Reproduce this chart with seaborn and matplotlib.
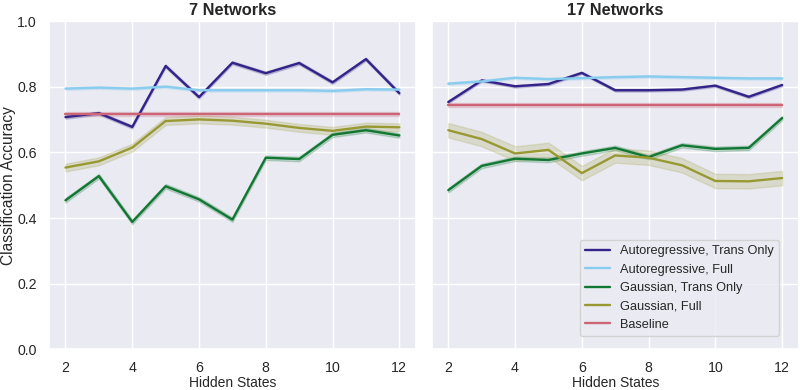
import numpy as np
import pandas as pd
import matplotlib
matplotlib.use("Agg")
import matplotlib.pyplot as plt
import seaborn as sns

hidden_states = [2, 3, 4, 5, 6, 7, 8, 9, 10, 11, 12]
models = ["Autoregressive, Trans Only", "Autoregressive, Full",
          "Gaussian, Trans Only", "Gaussian, Full", "Baseline"]
colors = ["#332288", "#88CCEE", "#117733", "#999933", "#CC6677"]

# 7 networks
ar_trans_7 = [0.708, 0.720, 0.678, 0.864, 0.769, 0.874, 0.842, 0.873, 0.814, 0.885, 0.781]
ar_full_7 = [0.795, 0.798, 0.795, 0.801, 0.790, 0.790, 0.790, 0.790, 0.788, 0.793, 0.792]
g_trans_7 = [0.454, 0.528, 0.388, 0.497, 0.457, 0.395, 0.584, 0.580, 0.654, 0.668, 0.652]
g_full_7 = [0.554, 0.573, 0.615, 0.696, 0.701, 0.697, 0.688, 0.675, 0.666, 0.679, 0.677]
base_7 = [0.717] * 11

# 17 networks
ar_trans_17 = [0.754, 0.820, 0.802, 0.809, 0.843, 0.790, 0.790, 0.792, 0.804, 0.770, 0.806]
ar_full_17 = [0.810, 0.817, 0.828, 0.824, 0.827, 0.830, 0.832, 0.830, 0.828, 0.826, 0.826]
g_trans_17 = [0.485, 0.559, 0.581, 0.577, 0.597, 0.614, 0.586, 0.622, 0.611, 0.614, 0.705]
g_full_17 = [0.668, 0.641, 0.597, 0.608, 0.537, 0.591, 0.584, 0.561, 0.513, 0.512, 0.522]
base_17 = [0.745] * 11

# half width of the shaded band, per series
spread_7 = [0.005, 0.004, 0.007, 0.012, 0.006]
spread_17 = [0.004, 0.004, 0.007, 0.022, 0.006]

panels = {
    "7 Networks": ([ar_trans_7, ar_full_7, g_trans_7, g_full_7, base_7], spread_7),
    "17 Networks": ([ar_trans_17, ar_full_17, g_trans_17, g_full_17, base_17], spread_17),
}

rows = []
for panel, (series, spreads) in panels.items():
    for name, vals, h in zip(models, series, spreads):
        for x, v in zip(hidden_states, vals):
            for d in (-h, 0, h):
                rows.append({"panel": panel, "Model": name, "Hidden States": x,
                             "Accuracy": v + d})
df = pd.DataFrame(rows)

sns.set_theme(style="darkgrid")
plt.rcParams["font.family"] = ["Liberation Sans", "DejaVu Sans"]

fig = plt.figure(figsize=(8, 3.9), dpi=100)
ax1 = fig.add_axes([0.061, 0.105, 0.459, 0.84])
ax2 = fig.add_axes([0.5395, 0.105, 0.459, 0.84], sharey=ax1)

for ax, panel in zip([ax1, ax2], panels):
    sns.lineplot(data=df[df["panel"] == panel], x="Hidden States", y="Accuracy",
                 hue="Model", hue_order=models, palette=colors,
                 errorbar=("pi", 100), linewidth=1.7, ax=ax)
    ax.set_title(panel, fontsize=11.8, fontweight="bold", pad=5)
    ax.set_xlabel("Hidden States", fontsize=10, labelpad=1)
    ax.set_ylim(0, 1.0)
    ax.set_xticks([2, 4, 6, 8, 10, 12])
    ax.tick_params(labelsize=10.2, pad=2.5)

ax1.set_ylabel("Classification Accuracy", fontsize=11.2)
ax1.yaxis.set_label_coords(-0.088, 0.5)
ax2.set_ylabel("")
plt.setp(ax2.get_yticklabels(), visible=False)
ax1.get_legend().remove()
ax2.legend(loc="lower right", bbox_to_anchor=(0.947, 0.04), borderaxespad=0,
           fontsize=9.2, title=None)

fig.savefig("out.png", dpi=100)
